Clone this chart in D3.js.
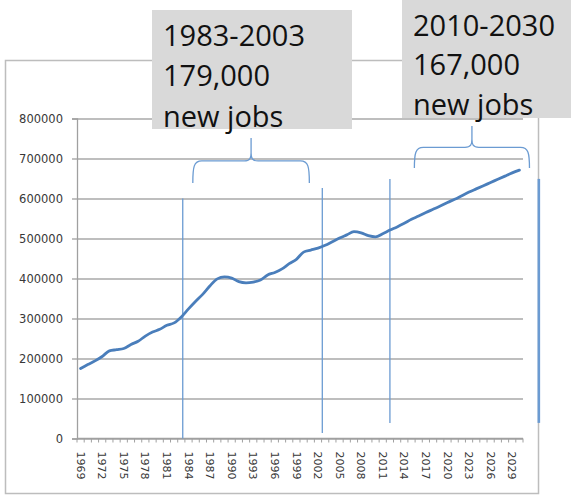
<!DOCTYPE html>
<html>
<head>
<meta charset="utf-8">
<script src="https://cdn.jsdelivr.net/npm/d3@7"></script>
<style>
  html, body { margin: 0; padding: 0; background: #fff; }
  svg { display: block; }
</style>
</head>
<body>
<svg id="chart" width="571" height="496"></svg>
<script>
// Employment by year, 1969–2030 (historical + projected)
const years = d3.range(1969, 2031);
const jobs = [
  175000, 185000, 194000, 205000, 219000, 222000, 225000, 235000, 243000, 256000,
  266000, 273000, 283000, 289000, 304000, 324000, 343000, 361000, 382000, 399000,
  404000, 401000, 392000, 389000, 391000, 396000, 409000, 415000, 424000, 437000,
  448000, 466000, 471000, 476000, 483000, 492000, 501000, 509000, 517000, 514000,
  507000, 504000, 512000, 521000, 529000, 538000, 548000, 556000, 565000, 573000,
  581000, 590000, 598000, 607000, 616000, 624000, 632000, 640000, 648000, 656000,
  664000, 671000
];
const yTicks = [0, 100000, 200000, 300000, 400000, 500000, 600000, 700000, 800000];
const xLabelYears = d3.range(1969, 2031, 3);

// Period markers (year position, top / bottom value)
const markerYears   = [1983.2, 2002.6, 2012.0, 2032.7];
const markerTops    = [600000, 626000, 649000, 649000];
const markerBottoms = [0, 14000, 39000, 39000];
const markerWidths  = [1.3, 1.3, 1.3, 2.6];

// Braces over the two highlighted periods
const braceStart  = [1984.6, 2015.4];
const braceEnd    = [2000.8, 2031.4];
const braceFoot   = [639000, 676000];
const braceBar    = [694000, 728000];
const braceTip    = [751000, 781000];

// Callout texts
const calloutLines = [
  ["1983-2003", "179,000", "new jobs"],
  ["2010-2030", "167,000", "new jobs"]
];

const svg = d3.select("#chart");
const plot = { left: 77, right: 523, top: 118.5, bottom: 438.5 };

const x = d3.scaleBand().domain(years).range([plot.left, plot.right]).padding(0);
const bw = x.bandwidth();
const xc = d => x(d) + bw / 2;
const xYear = d3.scaleLinear().domain([1969, 2030]).range([xc(1969), xc(2030)]);
const y = d3.scaleLinear().domain([0, 800000]).range([plot.bottom, plot.top]);

// Outer chart frame
svg.append("rect")
  .attr("x", 5.5).attr("y", 60.5).attr("width", 533).attr("height", 433)
  .attr("fill", "none").attr("stroke", "#bdbdbd").attr("stroke-width", 1.5);

// Horizontal gridlines
svg.append("g")
  .attr("transform", `translate(${plot.left},0)`)
  .call(d3.axisLeft(y).tickValues(yTicks).tickSize(-(plot.right - plot.left)).tickFormat(""))
  .call(g => g.select(".domain").remove())
  .call(g => g.selectAll("line").attr("stroke", "#a9a9a9").attr("stroke-width", 1.3));

// Y axis
const yAxis = svg.append("g")
  .attr("transform", `translate(${plot.left},0)`)
  .call(d3.axisLeft(y).tickValues(yTicks).tickSize(5).tickPadding(9).tickFormat(d3.format("d")));
yAxis.select(".domain").attr("stroke", "#a0a0a0").attr("stroke-width", 1.3);
yAxis.selectAll(".tick line").attr("stroke", "#a0a0a0").attr("stroke-width", 1.3);
yAxis.selectAll("text")
  .attr("font-family", "DejaVu Sans, sans-serif").attr("font-size", 11.5).attr("fill", "#383838");

// X axis line and category ticks
const boundaries = years.map(d => x(d)).concat([plot.right]);
svg.append("line")
  .attr("x1", plot.left).attr("x2", plot.right)
  .attr("y1", plot.bottom).attr("y2", plot.bottom)
  .attr("stroke", "#a0a0a0").attr("stroke-width", 1.3);
svg.append("g").selectAll("line").data(boundaries).join("line")
  .attr("x1", d => d).attr("x2", d => d)
  .attr("y1", plot.bottom).attr("y2", plot.bottom + 4)
  .attr("stroke", "#a0a0a0").attr("stroke-width", 1);

// X labels (rotated, every third year)
const xAxis = svg.append("g")
  .attr("transform", `translate(0,${plot.bottom})`)
  .call(d3.axisBottom(x).tickValues(xLabelYears).tickSize(0).tickFormat(d3.format("d")));
xAxis.select(".domain").remove();
xAxis.selectAll("text")
  .attr("font-family", "DejaVu Sans, sans-serif").attr("font-size", 11)
  .attr("fill", "#383838")
  .attr("text-anchor", "start")
  .attr("transform", "rotate(90)")
  .attr("x", 13).attr("y", 0).attr("dy", "0.35em");

// Period markers
svg.append("g").selectAll("line").data(markerYears).join("line")
  .attr("x1", d => xYear(d)).attr("x2", d => xYear(d))
  .attr("y1", (d, i) => y(markerTops[i])).attr("y2", (d, i) => y(markerBottoms[i]))
  .attr("stroke", "#6b9bd2").attr("stroke-width", (d, i) => markerWidths[i]);

// Employment line
svg.append("path")
  .datum(years.map((d, i) => [d, jobs[i]]))
  .attr("fill", "none").attr("stroke", "#4a7ebb").attr("stroke-width", 2.8)
  .attr("stroke-linejoin", "round").attr("stroke-linecap", "round")
  .attr("d", d3.line().x(d => xc(d[0])).y(d => y(d[1])).curve(d3.curveMonotoneX));

// Curly braces
function bracePath(i) {
  const x0 = xYear(braceStart[i]), x1 = xYear(braceEnd[i]);
  const xm = (x0 + x1) / 2;
  const yf = y(braceFoot[i]), yb = y(braceBar[i]), yt = y(braceTip[i]);
  const p = d3.path();
  p.moveTo(x0, yf);
  p.bezierCurveTo(x0, yb + 6, x0 + 1, yb, x0 + 9, yb);
  p.lineTo(xm - 7, yb);
  p.bezierCurveTo(xm - 1, yb, xm, yb - 3, xm, yb - 8);
  p.lineTo(xm, yt);
  p.moveTo(xm, yb - 8);
  p.bezierCurveTo(xm, yb - 3, xm + 1, yb, xm + 7, yb);
  p.lineTo(x1 - 9, yb);
  p.bezierCurveTo(x1 - 1, yb, x1, yb + 6, x1, yf);
  return p.toString();
}
svg.append("g").selectAll("path").data([0, 1]).join("path")
  .attr("d", d => bracePath(d))
  .attr("fill", "none").attr("stroke", "#6b9bd2").attr("stroke-width", 1.3);

// Callout boxes
const boxes = [
  { x: 152, y: 10, w: 200, h: 119, tx: 163, base: [46, 86, 127] },
  { x: 402, y: 0, w: 169, h: 118, tx: 413, base: [36, 75, 115] }
];
boxes.forEach((b, i) => {
  const g = svg.append("g");
  g.append("rect").attr("x", b.x).attr("y", b.y).attr("width", b.w).attr("height", b.h)
    .attr("fill", "#d9d9d9");
  g.selectAll("text").data(calloutLines[i]).join("text")
    .attr("x", b.tx).attr("y", (d, j) => b.base[j])
    .attr("font-family", "Open Sans, sans-serif").attr("font-size", 29)
    .attr("fill", "#111")
    .text(d => d);
});
</script>
</body>
</html>
